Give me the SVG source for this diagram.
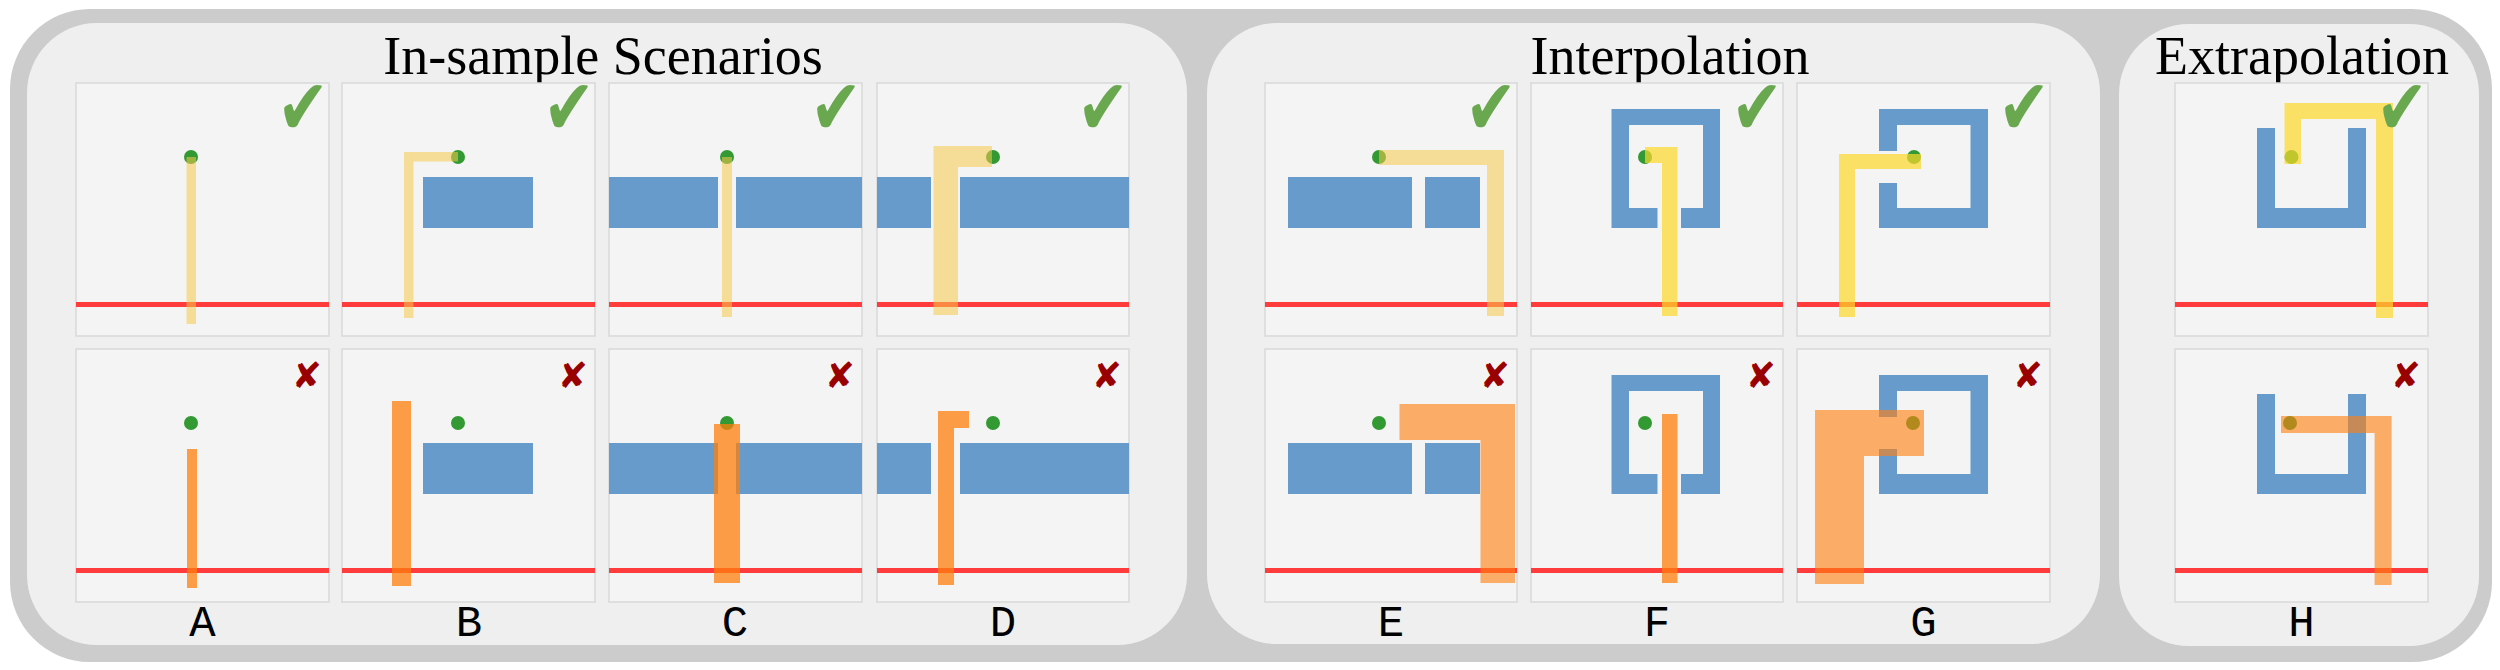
<svg xmlns="http://www.w3.org/2000/svg" xmlns:xlink="http://www.w3.org/1999/xlink" width="2500" height="670" viewBox="0 0 2500 670">
<style>
.frame{fill:#cccccc}
.panel{fill:#efefef}
.cell{fill:#f4f4f4;stroke:#d9d9d9;stroke-width:1.5}
.wall{fill:#679bcc}
.goal{fill:#339933}
.red{fill:#ff3b3b}
.yp{fill:#f5c94a;fill-opacity:0.55}
.yb{fill:#fcd92a;fill-opacity:0.7}
.os{fill:#ff7f0e;fill-opacity:0.75}
.op{fill:#ff7f0e;fill-opacity:0.62}
.ok{fill:#6aa84f;font-family:"DejaVu Sans",sans-serif;font-size:62px;text-anchor:end}
.no{fill:#990000;font-family:"DejaVu Sans",sans-serif;font-size:36px;text-anchor:end}
.title{fill:#000;font-family:"Liberation Serif","Times New Roman",serif;font-size:54px;text-anchor:middle}
.lab{fill:#000;font-family:"Liberation Mono","Courier New",monospace;font-size:44px;text-anchor:middle}
</style>
<defs>
<text id="chk" class="ok" x="0" y="0">✔</text>
</defs>
<rect class="frame" x="10" y="9" width="2482" height="653" rx="80"/>
<g id="panel-insample">
<rect class="panel" x="27" y="23" width="1160" height="622" rx="70"/>
<text class="title" x="603" y="74">In-sample Scenarios</text>
</g>
<g id="panel-interpolation">
<rect class="panel" x="1207" y="23" width="893" height="621" rx="70"/>
<text class="title" x="1670" y="74">Interpolation</text>
</g>
<g id="panel-extrapolation">
<rect class="panel" x="2119" y="24" width="360" height="622" rx="70"/>
<text class="title" x="2302" y="74">Extrapolation</text>
</g>

<!-- A -->
<g id="A-top">
<rect class="cell" x="76" y="83" width="253" height="253"/>
<rect class="red" x="76" y="302" width="253" height="5"/>
<circle class="goal" cx="191" cy="157" r="7"/>
<rect class="yp" x="186.5" y="157" width="9.5" height="167"/>
<use xlink:href="#chk" href="#chk" transform="translate(329,134) scale(1,1.25)"/>
</g>
<g id="A-bottom">
<rect class="cell" x="76" y="349" width="253" height="253"/>
<rect class="red" x="76" y="568" width="253" height="5"/>
<circle class="goal" cx="191" cy="423" r="7"/>
<rect class="os" x="187" y="449" width="10" height="139"/>
<text class="no" x="322" y="388">✘</text>
</g>

<!-- B -->
<g id="B-top">
<rect class="cell" x="342" y="83" width="253" height="253"/>
<rect class="wall" x="423" y="177" width="110" height="51"/>
<rect class="red" x="342" y="302" width="253" height="5"/>
<circle class="goal" cx="458" cy="157" r="7"/>
<path class="yp" d="M404,152 H458 V161.5 H413.5 V318 H404 Z"/>
<use xlink:href="#chk" href="#chk" transform="translate(595,134) scale(1,1.25)"/>
</g>
<g id="B-bottom">
<rect class="cell" x="342" y="349" width="253" height="253"/>
<rect class="wall" x="423" y="443" width="110" height="51"/>
<rect class="red" x="342" y="568" width="253" height="5"/>
<circle class="goal" cx="458" cy="423" r="7"/>
<rect class="os" x="392" y="401" width="19" height="185"/>
<text class="no" x="588" y="388">✘</text>
</g>

<!-- C -->
<g id="C-top">
<rect class="cell" x="609" y="83" width="253" height="253"/>
<rect class="wall" x="609" y="177" width="109" height="51"/>
<rect class="wall" x="736" y="177" width="126" height="51"/>
<rect class="red" x="609" y="302" width="253" height="5"/>
<circle class="goal" cx="727" cy="157" r="7"/>
<rect class="yp" x="722" y="157" width="10" height="160"/>
<use xlink:href="#chk" href="#chk" transform="translate(862,134) scale(1,1.25)"/>
</g>
<g id="C-bottom">
<rect class="cell" x="609" y="349" width="253" height="253"/>
<rect class="wall" x="609" y="443" width="109" height="51"/>
<rect class="wall" x="736" y="443" width="126" height="51"/>
<rect class="red" x="609" y="568" width="253" height="5"/>
<circle class="goal" cx="727" cy="423" r="7"/>
<rect class="os" x="714" y="424" width="26" height="159"/>
<text class="no" x="855" y="388">✘</text>
</g>

<!-- D -->
<g id="D-top">
<rect class="cell" x="877" y="83" width="252" height="253"/>
<rect class="wall" x="877" y="177" width="54" height="51"/>
<rect class="wall" x="960" y="177" width="169" height="51"/>
<rect class="red" x="877" y="302" width="252" height="5"/>
<circle class="goal" cx="993" cy="157" r="7"/>
<path class="yp" d="M933.5,146 H992 V167 H958 V315 H933.5 Z"/>
<use xlink:href="#chk" href="#chk" transform="translate(1129,134) scale(1,1.25)"/>
</g>
<g id="D-bottom">
<rect class="cell" x="877" y="349" width="252" height="253"/>
<rect class="wall" x="877" y="443" width="54" height="51"/>
<rect class="wall" x="960" y="443" width="169" height="51"/>
<rect class="red" x="877" y="568" width="252" height="5"/>
<circle class="goal" cx="993" cy="423" r="7"/>
<path class="os" d="M938,411 H969 V428 H954 V585 H938 Z"/>
<text class="no" x="1122" y="388">✘</text>
</g>

<!-- E -->
<g id="E-top">
<rect class="cell" x="1265" y="83" width="252" height="253"/>
<rect class="wall" x="1288" y="177" width="124" height="51"/>
<rect class="wall" x="1425" y="177" width="55" height="51"/>
<rect class="red" x="1265" y="302" width="252" height="5"/>
<circle class="goal" cx="1379" cy="157" r="7"/>
<path class="yp" d="M1379,150 H1504 V316 H1487 V165 H1379 Z"/>
<use xlink:href="#chk" href="#chk" transform="translate(1517,134) scale(1,1.25)"/>
</g>
<g id="E-bottom">
<rect class="cell" x="1265" y="349" width="252" height="253"/>
<rect class="wall" x="1288" y="443" width="124" height="51"/>
<rect class="wall" x="1425" y="443" width="55" height="51"/>
<rect class="red" x="1265" y="568" width="252" height="5"/>
<circle class="goal" cx="1379" cy="423" r="7"/>
<path class="op" d="M1399.5,404 H1515 V583 H1480.5 V440 H1399.5 Z"/>
<text class="no" x="1510" y="388">✘</text>
</g>

<!-- F -->
<g id="F-top">
<rect class="cell" x="1531" y="83" width="252" height="253"/>
<path class="wall" d="M1611.5,109 H1720 V228 H1681 V208 H1703 V125 H1629 V208 H1657.5 V228 H1611.5 Z"/>
<rect class="red" x="1531" y="302" width="252" height="5"/>
<circle class="goal" cx="1645" cy="157" r="7"/>
<path class="yb" d="M1645,147 H1677.5 V316 H1662 V163 H1645 Z"/>
<use xlink:href="#chk" href="#chk" transform="translate(1783,134) scale(1,1.25)"/>
</g>
<g id="F-bottom">
<rect class="cell" x="1531" y="349" width="252" height="253"/>
<path class="wall" d="M1611.5,375 H1720 V494 H1681 V474 H1703 V391 H1629 V474 H1657.5 V494 H1611.5 Z"/>
<rect class="red" x="1531" y="568" width="252" height="5"/>
<circle class="goal" cx="1645" cy="423" r="7"/>
<rect class="os" x="1662" y="414" width="15.5" height="169"/>
<text class="no" x="1776" y="388">✘</text>
</g>

<!-- G -->
<g id="G-top">
<rect class="cell" x="1797" y="83" width="253" height="253"/>
<path class="wall" d="M1879,109 H1988 V228 H1879 V183 H1897 V208 H1970.5 V125 H1897 V151 H1879 Z"/>
<rect class="red" x="1797" y="302" width="253" height="5"/>
<circle class="goal" cx="1914" cy="157" r="7"/>
<path class="yb" d="M1839,154 H1921 V169 H1855 V317 H1839 Z"/>
<use xlink:href="#chk" href="#chk" transform="translate(2050,134) scale(1,1.25)"/>
</g>
<g id="G-bottom">
<rect class="cell" x="1797" y="349" width="253" height="253"/>
<path class="wall" d="M1879,375 H1988 V494 H1879 V449 H1897 V474 H1970.5 V391 H1897 V417 H1879 Z"/>
<rect class="red" x="1797" y="568" width="253" height="5"/>
<circle class="goal" cx="1913" cy="423" r="7"/>
<path class="op" d="M1815,410 H1924 V456 H1864 V584 H1815 Z"/>
<text class="no" x="2043" y="388">✘</text>
</g>

<!-- H -->
<g id="H-top">
<rect class="cell" x="2175" y="83" width="253" height="253"/>
<path class="wall" d="M2257,128 H2275 V208 H2348 V128 H2366 V228 H2257 Z"/>
<rect class="red" x="2175" y="302" width="253" height="5"/>
<circle class="goal" cx="2291.5" cy="157" r="7"/>
<path class="yb" d="M2284.5,103 H2393 V318 H2376 V119 H2301 V164 H2284.5 Z"/>
<use xlink:href="#chk" href="#chk" transform="translate(2428,134) scale(1,1.25)"/>
</g>
<g id="H-bottom">
<rect class="cell" x="2175" y="349" width="253" height="253"/>
<path class="wall" d="M2257,394 H2275 V474 H2348 V394 H2366 V494 H2257 Z"/>
<rect class="red" x="2175" y="568" width="253" height="5"/>
<circle class="goal" cx="2290" cy="423" r="7"/>
<path class="op" d="M2281,416 H2391.6 V585 H2374.6 V433 H2281 Z"/>
<text class="no" x="2421" y="388">✘</text>
</g>

<g id="labels">
<text class="lab" x="202.5" y="636">A</text>
<text class="lab" x="469" y="636">B</text>
<text class="lab" x="735" y="636">C</text>
<text class="lab" x="1003" y="636">D</text>
<text class="lab" x="1391" y="636">E</text>
<text class="lab" x="1657" y="636">F</text>
<text class="lab" x="1923.5" y="636">G</text>
<text class="lab" x="2301.5" y="636">H</text>
</g>
<g id="connectors"/>
</svg>
